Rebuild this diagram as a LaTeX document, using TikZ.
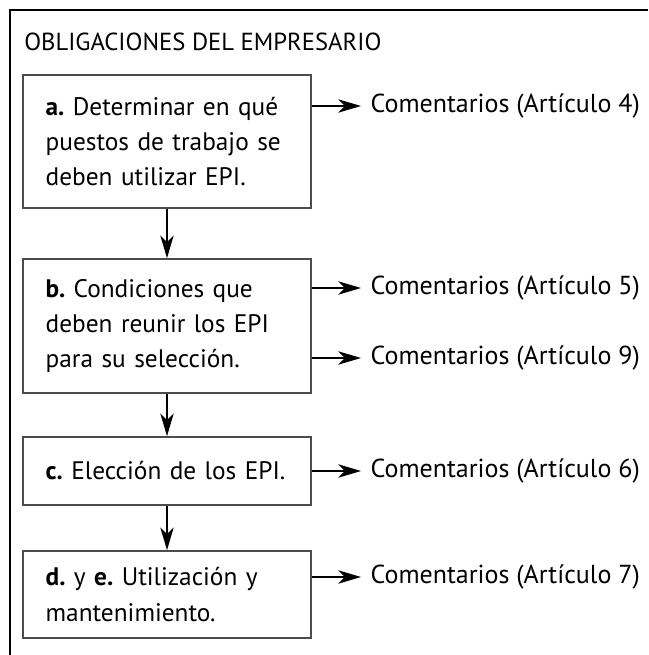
\documentclass[tikz,border=0pt]{standalone}
\usepackage{fontspec}
\setmainfont{PT Sans}
\usetikzlibrary{arrows.meta}
\frenchspacing
\begin{document}
\begin{tikzpicture}[x=0.75pt,y=-0.75pt]

\tikzset{stepbox/.style={rectangle,draw=black!70,line width=1.2pt,minimum width=216pt,inner xsep=0pt,inner ysep=0pt,text width=182pt,align=left,font=\fontsize{19}{26.5}\selectfont},}
\tikzset{comment/.style={anchor=west,inner xsep=7pt,inner ysep=0pt,font=\fontsize{19.5}{26.5}\selectfont},}
\tikzset{flow/.style={-{Stealth[length=17pt,width=10pt,inset=5pt]},line width=1.3pt},}

\useasboundingbox (0,0) rectangle (648,655);

%MARCO
\draw[line width=1.2pt] (648,10) -- (10,10) -- (10,655);
\draw (24,51) node[anchor=base west,inner sep=0pt,font=\fontsize{18.5}{26.5}\selectfont] (title) {OBLIGACIONES DEL EMPRESARIO};

%PASOS
\draw (167,141.5) node [stepbox,minimum height=99.75pt] (a) {\textbf{a.} Determinar en qué\\ puestos de trabajo se\\ deben utilizar EPI.};
\draw (167,326) node [stepbox,minimum height=100.5pt] (b) {\textbf{b.} Condiciones que\\ deben reunir los EPI\\ para su selección.};
\draw (167,471) node [stepbox,minimum height=51pt] (c) {\textbf{c.} Elección de los EPI.};
\draw (167,594.5) node [stepbox,minimum height=65.25pt] (d) {\textbf{d.} y \textbf{e.} Utilización y\\ mantenimiento.};

\draw[flow] (a) -- (b);
\draw[flow] (b) -- (c);
\draw[flow] (c) -- (d);

%COMENTARIOS
\draw (361,106) node [comment] (com4) {Comentarios (Artículo 4)};
\draw (361,288) node [comment] (com5) {Comentarios (Artículo 5)};
\draw (361,358) node [comment] (com9) {Comentarios (Artículo 9)};
\draw (361,471) node [comment] (com6) {Comentarios (Artículo 6)};
\draw (361,577) node [comment] (com7) {Comentarios (Artículo 7)};

\draw[flow] (a.east |- com4.west) -- (com4.west);
\draw[flow] (b.east |- com5.west) -- (com5.west);
\draw[flow] (b.east |- com9.west) -- (com9.west);
\draw[flow] (c.east |- com6.west) -- (com6.west);
\draw[flow] (d.east |- com7.west) -- (com7.west);

\end{tikzpicture}
\end{document}
